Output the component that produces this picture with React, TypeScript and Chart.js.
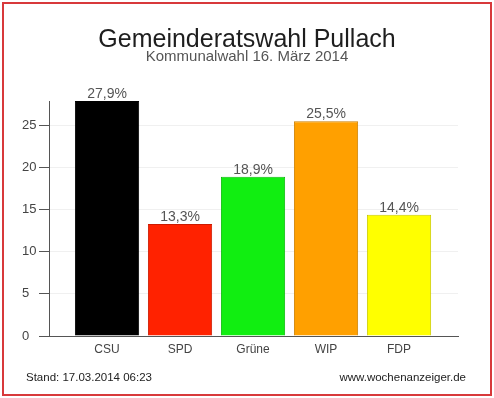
import React, { useEffect, useRef } from "react";
import { Chart, registerables } from "chart.js";

Chart.register(...registerables);

const parties = ["CSU", "SPD", "Grüne", "WIP", "FDP"];
const shares = [27.9, 13.3, 18.9, 25.5, 14.4];
const barColors = ["#000000", "#ff2200", "#11ee11", "#ffa000", "#ffff00"];
const barBorders = ["#000000", "#cc1a00", "#0cbb0c", "#cc8000", "#cccc00"];
const yTicks = [0, 5, 10, 15, 20, 25];
const titleText = "Gemeinderatswahl Pullach";
const subtitleText = "Kommunalwahl 16. März 2014";
const footerLeft = "Stand: 17.03.2014 06:23";
const footerRight = "www.wochenanzeiger.de";

const FONT = '"Liberation Sans", Arial, Helvetica, sans-serif';

const textPlugin = {
  id: "texts",
  afterDraw(chart: any) {
    const ctx = chart.ctx as CanvasRenderingContext2D;
    ctx.save();
    // title
    ctx.fillStyle = "#1e1e1e";
    ctx.textAlign = "center";
    ctx.textBaseline = "alphabetic";
    ctx.font = `25px ${FONT}`;
    ctx.fillText(titleText, 247, 47);
    ctx.fillStyle = "#555555";
    ctx.font = `15px ${FONT}`;
    ctx.fillText(subtitleText, 247, 61);
    // footer
    ctx.fillStyle = "#222222";
    ctx.font = `11.5px ${FONT}`;
    ctx.textAlign = "left";
    ctx.fillText(footerLeft, 26, 381);
    ctx.textAlign = "right";
    ctx.fillText(footerRight, 466, 381);
    // value labels
    const meta = chart.getDatasetMeta(0);
    ctx.fillStyle = "#555555";
    ctx.font = `14px ${FONT}`;
    ctx.textAlign = "center";
    meta.data.forEach((bar: any, i: number) => {
      const label = shares[i].toFixed(1).replace(".", ",") + "%";
      ctx.fillText(label, bar.x, bar.y - 3);
    });
    ctx.restore();
  },
};

export default function App() {
  const ref = useRef<HTMLCanvasElement>(null);
  useEffect(() => {
    if (!ref.current) return;
    Chart.defaults.font.family = FONT;
    const chart = new Chart(ref.current, {
      type: "bar",
      data: {
        datasets: [
          {
            data: shares.map((v, i) => ({ x: i, y: v })),
            backgroundColor: barColors,
            borderColor: barBorders,
            borderWidth: 1,
            barPercentage: 0.88,
            categoryPercentage: 1,
          },
        ],
      },
      options: {
        responsive: false,
        animation: false,
        layout: { padding: { left: 22, right: 36, top: 101, bottom: 0 } },
        plugins: {
          legend: { display: false },
          tooltip: { enabled: false },
          title: { display: false },
        },
        scales: {
          x: {
            type: "linear",
            offset: false,
            min: -0.795,
            max: 4.808,
            grid: { display: false, drawTicks: false, offset: false },
            border: { display: true, color: "#555555", width: 1 },
            afterFit: (s: any) => {
              s.height = 62;
            },
            afterBuildTicks: (s: any) => {
              s.ticks = parties.map((_, i) => ({ value: i }));
            },
            ticks: {
              padding: 6,
              color: "#444444",
              font: { size: 12 },
              autoSkip: false,
              maxRotation: 0,
              callback: (v: any) => parties[v] ?? "",
            },
          },
          y: {
            min: 0,
            max: 27.9,
            afterFit: (s: any) => {
              s.width = 27;
            },
            afterBuildTicks: (s: any) => {
              s.ticks = yTicks.map((v) => ({ value: v }));
            },
            grid: {
              color: "#f0f0f0",
              tickColor: "#555555",
              tickLength: 10,
              drawTicks: true,
            },
            border: { display: true, color: "#555555", width: 1 },
            ticks: {
              padding: 3,
              crossAlign: "far",
              color: "#444444",
              font: { size: 13 },
            },
          },
        },
      },
      plugins: [textPlugin],
    } as any);
    return () => chart.destroy();
  }, []);

  return (
    <div style={{ position: "absolute", left: 0, top: 0, width: 494, height: 398, background: "#fff" }}>
      <canvas ref={ref} width={494} height={398} style={{ position: "absolute", left: 0, top: 0 }} />
      <div
        style={{
          position: "absolute",
          left: 2,
          top: 2,
          width: 490,
          height: 394,
          boxSizing: "border-box",
          border: "2px solid #d8393b",
          pointerEvents: "none",
        }}
      />
    </div>
  );
}
